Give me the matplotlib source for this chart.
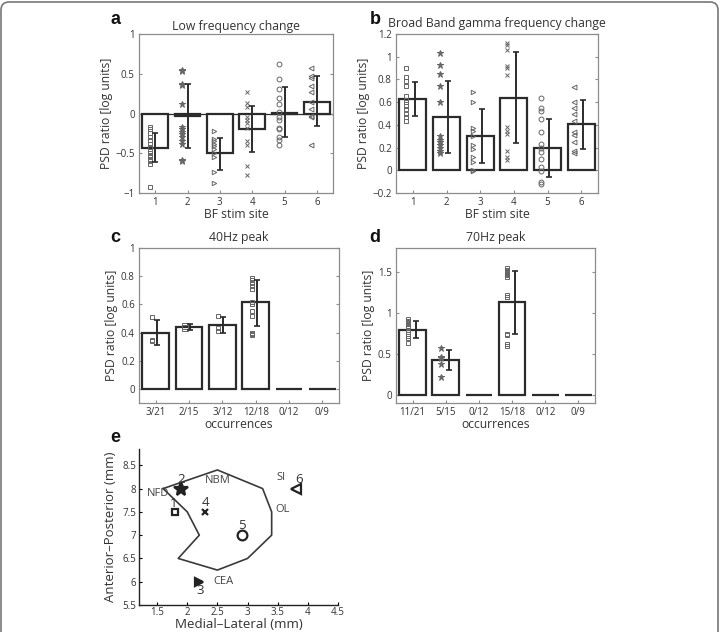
import matplotlib
matplotlib.use('Agg')
import matplotlib.pyplot as plt
import numpy as np
from matplotlib.patches import FancyBboxPatch
from matplotlib.transforms import IdentityTransform

plt.rcParams['font.family'] = ['Open Sans', 'DejaVu Sans']
plt.rcParams['axes.unicode_minus'] = True

# ---- panel a: low frequency change ----
sites = [1, 2, 3, 4, 5, 6]
low_mean = [-0.43, -0.03, -0.50, -0.20, 0.01, 0.15]
low_lo = [-0.61, -0.44, -0.71, -0.48, -0.30, -0.16]
low_hi = [-0.25, 0.37, -0.31, 0.09, 0.33, 0.47]
low_pts = [
    [-0.93, -0.17, -0.20, -0.25, -0.30, -0.33, -0.38, -0.42, -0.47, -0.50, -0.53, -0.57, -0.60, -0.63],
    [0.55, 0.54, 0.37, 0.36, 0.12, -0.17, -0.20, -0.23, -0.26, -0.30, -0.35, -0.38, -0.58, -0.60],
    [-0.22, -0.32, -0.35, -0.38, -0.41, -0.45, -0.50, -0.55, -0.73, -0.88],
    [0.27, 0.13, 0.08, -0.05, -0.08, -0.12, -0.18, -0.35, -0.40, -0.66, -0.77],
    [0.62, 0.43, 0.31, 0.20, 0.12, 0.02, -0.05, -0.08, -0.18, -0.20, -0.30, -0.33, -0.39],
    [0.57, 0.47, 0.45, 0.35, 0.27, 0.15, 0.06, -0.03, -0.05, -0.40],
]

# ---- panel b: broad band gamma change ----
gam_mean = [0.63, 0.47, 0.30, 0.64, 0.20, 0.41]
gam_lo = [0.48, 0.15, 0.06, 0.24, -0.06, 0.19]
gam_hi = [0.78, 0.79, 0.54, 1.04, 0.45, 0.62]
gam_pts = [
    [0.90, 0.82, 0.79, 0.74, 0.65, 0.62, 0.60, 0.57, 0.54, 0.50, 0.47, 0.43],
    [1.03, 0.93, 0.85, 0.74, 0.60, 0.30, 0.27, 0.25, 0.22, 0.20, 0.17, 0.15],
    [0.69, 0.60, 0.37, 0.35, 0.30, 0.22, 0.19, 0.12, 0.07, 0.00, -0.01],
    [1.12, 1.10, 1.06, 0.92, 0.90, 0.84, 0.38, 0.35, 0.32, 0.17, 0.12, 0.09],
    [0.64, 0.55, 0.52, 0.45, 0.34, 0.23, 0.20, 0.16, 0.10, 0.03, -0.01, -0.10, -0.12],
    [0.73, 0.60, 0.55, 0.50, 0.43, 0.34, 0.31, 0.25, 0.17, 0.15],
]

# ---- panel c: 40Hz peak ----
occ40 = ['3/21', '2/15', '3/12', '12/18', '0/12', '0/9']
p40_mean = [0.40, 0.44, 0.455, 0.615, 0.0, 0.0]
p40_lo = [0.31, 0.42, 0.40, 0.45, None, None]
p40_hi = [0.49, 0.46, 0.51, 0.77, None, None]
p40_pts = [
    [0.51, 0.35, 0.34],
    [0.45, 0.43],
    [0.52, 0.43, 0.41],
    [0.79, 0.77, 0.75, 0.73, 0.71, 0.62, 0.60, 0.55, 0.52, 0.40, 0.39, 0.38],
    [],
    [],
]

# ---- panel d: 70Hz peak ----
occ70 = ['11/21', '5/15', '0/12', '15/18', '0/12', '0/9']
p70_mean = [0.80, 0.43, 0.0, 1.14, 0.0, 0.0]
p70_lo = [0.70, 0.30, None, 0.75, None, None]
p70_hi = [0.90, 0.55, None, 1.52, None, None]
p70_pts = [
    [0.93, 0.91, 0.89, 0.87, 0.85, 0.83, 0.80, 0.77, 0.72, 0.70, 0.64],
    [0.57, 0.46, 0.45, 0.38, 0.22],
    [],
    [1.55, 1.53, 1.52, 1.51, 1.50, 1.49, 1.48, 1.47, 1.45, 1.22, 1.20, 0.75, 0.73, 0.62, 0.60],
    [],
    [],
]

# ---- panel e: stimulation sites ----
region_x = [1.6, 2.5, 3.25, 3.4, 3.4, 3.0, 2.5, 1.85, 2.2, 2.0, 1.6]
region_y = [8.0, 8.4, 8.0, 7.5, 7.0, 6.5, 6.25, 6.5, 7.0, 7.5, 8.0]
site_x = [1.8, 1.9, 2.2, 2.3, 2.9, 3.8]
site_y = [7.5, 8.0, 6.0, 7.5, 7.0, 8.0]
area_names = ['NFD', 'NBM', 'SI', 'OL', 'CEA']
area_x = [1.52, 2.5, 3.55, 3.58, 2.6]
area_y = [7.9, 8.17, 8.23, 7.55, 6.0]

site_markers = ['s', '*', '>', 'x', 'o', '<']
marker_sizes = [3.2, 4.5, 3.2, 3.2, 3.5, 3.5]

W, H = 721, 632
fig = plt.figure(figsize=(W / 100, H / 100), dpi=100)

txt = '#333333'
edge = '#2b2b2b'
box = '#8c8c8c'
pt_col = '#666666'
lab_fs = 8.7
title_fs = 8.8


def ax_rect(l, r, t, b):
    return [l / W, 1 - b / H, (r - l) / W, (b - t) / H]


def style_box(ax):
    for s in ax.spines.values():
        s.set_color(box)
        s.set_linewidth(0.9)
    ax.tick_params(direction='in', length=2.5, width=0.8, color=box,
                   labelsize=7, labelcolor=txt, top=True, right=True, pad=3)
    ax.tick_params(axis='x', top=False)


def bar_panel(ax, x, means, lo, hi, pts, markers, pt_off, err_off):
    ax.bar(x, means, width=0.8, color='white', edgecolor=edge, linewidth=1.6, zorder=2)
    for i, xi in enumerate(x):
        if pts[i]:
            ax.plot([xi + pt_off] * len(pts[i]), pts[i], linestyle='none',
                    marker=markers[i], ms=marker_sizes[i], mfc='none' if markers[i] != '*' else pt_col,
                    mec=pt_col, mew=0.7, zorder=3)
        if lo[i] is not None:
            m = means[i]
            ax.errorbar(xi + err_off, m, yerr=[[m - lo[i]], [hi[i] - m]], fmt='none',
                        ecolor=edge, elinewidth=1.4, capsize=2.5, capthick=1.2, zorder=4)
    ax.set_xlim(0.5, 6.5)


def labels(ax, title, xlab, pad):
    ax.set_title(title, fontsize=title_fs, color=txt, pad=pad)
    ax.set_xlabel(xlab, fontsize=lab_fs, color=txt, labelpad=0)
    ax.set_ylabel('PSD ratio [log units]', fontsize=lab_fs, color=txt, labelpad=2)


# a
ax = fig.add_axes(ax_rect(139, 333, 34, 193))
ax.axhline(0, color=edge, lw=0.9, zorder=1)
bar_panel(ax, sites, low_mean, low_lo, low_hi, low_pts, site_markers, -0.17, 0.0)
ax.set_ylim(-1, 1)
ax.set_yticks([-1, -0.5, 0, 0.5, 1])
ax.set_yticklabels(['\u22121', '\u22120.5', '0', '0.5', '1'])
ax.set_xticks(sites)
style_box(ax)
labels(ax, 'Low frequency change', 'BF stim site', 3)

# b
ax = fig.add_axes(ax_rect(396, 598, 34, 193))
bar_panel(ax, sites, gam_mean, gam_lo, gam_hi, gam_pts, site_markers, -0.2, 0.05)
ax.set_ylim(-0.2, 1.2)
ax.set_yticks([-0.2, 0, 0.2, 0.4, 0.6, 0.8, 1, 1.2])
ax.set_yticklabels(['\u22120.2', '0', '0.2', '0.4', '0.6', '0.8', '1', '1.2'])
ax.set_xticks(sites)
style_box(ax)
labels(ax, 'Broad Band gamma frequency change', 'BF stim site', 5)

# c
ax = fig.add_axes(ax_rect(139, 339, 248, 403))
bar_panel(ax, sites, p40_mean, p40_lo, p40_hi, p40_pts, ['s'] * 6, -0.12, 0.03)
ax.set_ylim(-0.1, 1)
ax.set_yticks([0, 0.2, 0.4, 0.6, 0.8, 1])
ax.set_yticklabels(['0', '0.2', '0.4', '0.6', '0.8', '1'])
ax.set_xticks(sites)
ax.set_xticklabels(occ40)
style_box(ax)
labels(ax, '40Hz peak', 'occurrences', 5)

# d
ax = fig.add_axes(ax_rect(396, 595, 248, 403))
bar_panel(ax, sites, p70_mean, p70_lo, p70_hi, p70_pts, ['s', '*', 's', 's', 's', 's'], -0.15, 0.1)
ax.set_ylim(-0.1, 1.8)
ax.set_yticks([0, 0.5, 1, 1.5])
ax.set_yticklabels(['0', '0.5', '1', '1.5'])
ax.set_xticks(sites)
ax.set_xticklabels(occ70)
style_box(ax)
labels(ax, '70Hz peak', 'occurrences', 5)

# e
ax = fig.add_axes(ax_rect(139, 338, 449, 605))
ax.plot(region_x, region_y, color='#3a3a3a', lw=1.2)
e_fill = ['none', '#222222', '#222222', '#222222', 'none', 'none']
e_size = [5, 10, 6, 5, 7, 7]
for i in range(len(site_x)):
    ax.plot(site_x[i], site_y[i], linestyle='none', marker=site_markers[i], ms=e_size[i],
            mfc=e_fill[i], mec='#222222', mew=1.6)
num_dy = [0.17, 0.2, -0.18, 0.2, 0.2, 0.2]
num_dx = [-0.03, 0.0, 0.02, 0.0, 0.0, 0.05]
for i in range(len(site_x)):
    ax.text(site_x[i] + num_dx[i], site_y[i] + num_dy[i], str(sites[i]), fontsize=9.5,
            color='#333333', ha='center', va='center')
for n, xx, yy in zip(area_names, area_x, area_y):
    ax.text(xx, yy, n, fontsize=8, color='#444444', ha='center', va='center')
ax.set_xlim(1.2, 4.5)
ax.set_ylim(5.5, 8.85)
ax.set_xticks([1.5, 2, 2.5, 3, 3.5, 4, 4.5])
ax.set_xticklabels(['1.5', '2', '2.5', '3', '3.5', '4', '4.5'])
ax.set_yticks([5.5, 6, 6.5, 7, 7.5, 8, 8.5])
ax.set_yticklabels(['5.5', '6', '6.5', '7', '7.5', '8', '8.5'])
ax.spines['top'].set_visible(False)
ax.spines['right'].set_visible(False)
for s in ['left', 'bottom']:
    ax.spines[s].set_color('#222222')
    ax.spines[s].set_linewidth(1.0)
ax.tick_params(direction='in', length=2, width=0.8, labelsize=7, labelcolor=txt, pad=2)
ax.tick_params(axis='x', pad=1.5)
ax.set_xlabel('Medial\u2013Lateral (mm)', fontsize=9.6, color=txt, labelpad=0)
ax.set_ylabel('Anterior\u2013Posterior (mm)', fontsize=9.5, color=txt, labelpad=4)

# panel letters
for lab, px, py in [('a', 115, 20), ('b', 375, 20), ('c', 115, 237), ('d', 375, 237), ('e', 115, 437)]:
    fig.text(px / W, 1 - py / H, lab, fontsize=13, fontweight='bold', family='Liberation Sans',
             ha='center', va='center', color='#111111')

# rounded frame around the figure
frame = FancyBboxPatch((1, -20), 717, 650, boxstyle='round,pad=0,rounding_size=8',
                       transform=IdentityTransform(), fill=False, edgecolor='#777777', lw=1.2)
fig.patches.append(frame)

fig.savefig('out.png', dpi=100)
